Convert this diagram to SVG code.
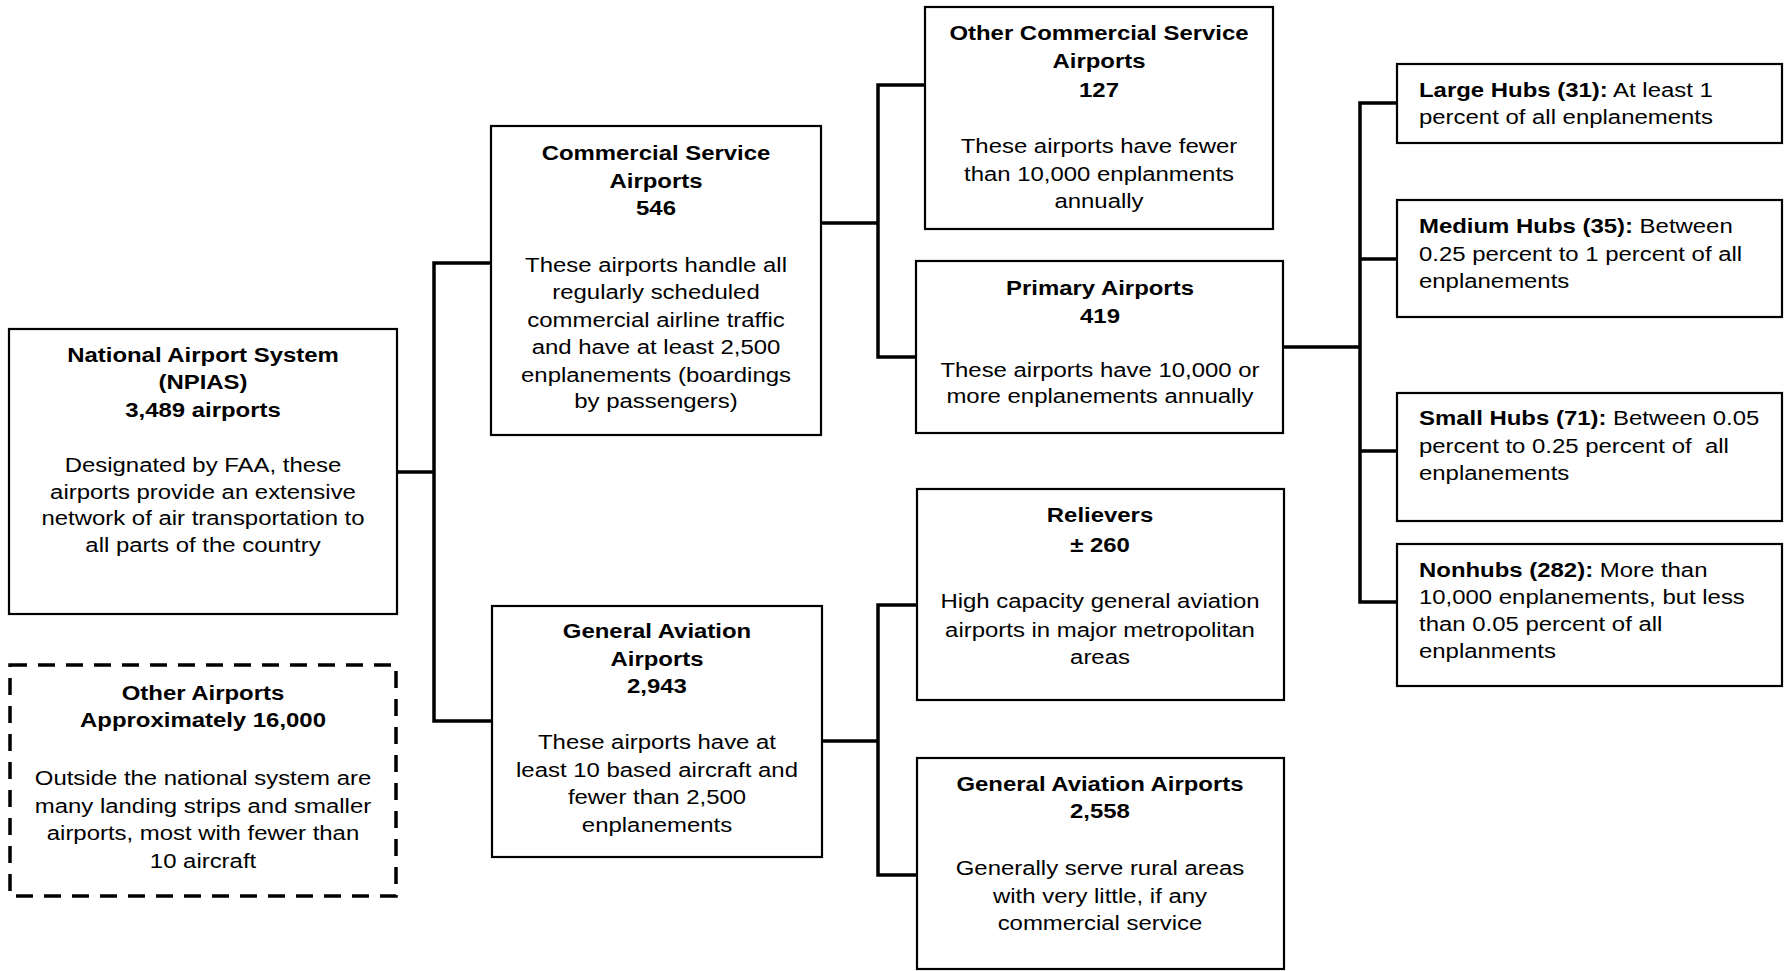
<svg xmlns="http://www.w3.org/2000/svg" width="1785" height="971" viewBox="0 0 1785 971">
<style>
.box{fill:#fff;stroke:#000;stroke-width:2.2}
.dash{fill:#fff;stroke:#000;stroke-width:3.5;stroke-dasharray:17 11}
.conn{fill:none;stroke:#000;stroke-width:3.5;stroke-linejoin:miter;stroke-linecap:square}
text{font-family:"Liberation Sans",Arial,Helvetica,sans-serif;font-size:21px;fill:#000}
.c{text-anchor:middle}
.b{font-weight:bold}
</style>
<rect width="1785" height="971" fill="#fff"/>
<g id="connectors">
<path class="conn" d="M397 472H434M434 263V721M434 263H491M434 721H492"/>
<path class="conn" d="M821 223H878M878 85V357M878 85H925M878 357H916"/>
<path class="conn" d="M1283 347H1360M1360 103V602M1360 103H1397M1360 259H1397M1360 451H1397M1360 602H1397"/>
<path class="conn" d="M822 741H878M878 605V875M878 605H917M878 875H917"/>
</g>
<g id="npias">
<rect class="box" x="9" y="329" width="388" height="285"/>
<g transform="translate(203 0) scale(1.14 1)">
<text class="c b" x="0" y="362">National Airport System</text>
<text class="c b" x="0" y="389">(NPIAS)</text>
<text class="c b" x="0" y="417">3,489 airports</text>
<text class="c" x="0" y="472">Designated by FAA, these</text>
<text class="c" x="0" y="499">airports provide an extensive</text>
<text class="c" x="0" y="525">network of air transportation to</text>
<text class="c" x="0" y="552">all parts of the country</text>
</g>
</g>
<g id="other-airports">
<rect class="dash" x="10" y="665" width="386" height="231"/>
<g transform="translate(203 0) scale(1.14 1)">
<text class="c b" x="0" y="700">Other Airports</text>
<text class="c b" x="0" y="727">Approximately 16,000</text>
<text class="c" x="0" y="785">Outside the national system are</text>
<text class="c" x="0" y="813">many landing strips and smaller</text>
<text class="c" x="0" y="840">airports, most with fewer than</text>
<text class="c" x="0" y="868">10 aircraft</text>
</g>
</g>
<g id="commercial">
<rect class="box" x="491" y="126" width="330" height="309"/>
<g transform="translate(656 0) scale(1.14 1)">
<text class="c b" x="0" y="160">Commercial Service</text>
<text class="c b" x="0" y="188">Airports</text>
<text class="c b" x="0" y="215">546</text>
<text class="c" x="0" y="272">These airports handle all</text>
<text class="c" x="0" y="299">regularly scheduled</text>
<text class="c" x="0" y="327">commercial airline traffic</text>
<text class="c" x="0" y="354">and have at least 2,500</text>
<text class="c" x="0" y="382">enplanements (boardings</text>
<text class="c" x="0" y="408">by passengers)</text>
</g>
</g>
<g id="general-aviation">
<rect class="box" x="492" y="606" width="330" height="251"/>
<g transform="translate(657 0) scale(1.14 1)">
<text class="c b" x="0" y="638">General Aviation</text>
<text class="c b" x="0" y="666">Airports</text>
<text class="c b" x="0" y="693">2,943</text>
<text class="c" x="0" y="749">These airports have at</text>
<text class="c" x="0" y="777">least 10 based aircraft and</text>
<text class="c" x="0" y="804">fewer than 2,500</text>
<text class="c" x="0" y="832">enplanements</text>
</g>
</g>
<g id="other-commercial">
<rect class="box" x="925" y="7" width="348" height="222"/>
<g transform="translate(1099 0) scale(1.14 1)">
<text class="c b" x="0" y="40">Other Commercial Service</text>
<text class="c b" x="0" y="68">Airports</text>
<text class="c b" x="0" y="97">127</text>
<text class="c" x="0" y="153">These airports have fewer</text>
<text class="c" x="0" y="181">than 10,000 enplanments</text>
<text class="c" x="0" y="208">annually</text>
</g>
</g>
<g id="primary">
<rect class="box" x="916" y="261" width="367" height="172"/>
<g transform="translate(1100 0) scale(1.14 1)">
<text class="c b" x="0" y="295">Primary Airports</text>
<text class="c b" x="0" y="323">419</text>
<text class="c" x="0" y="377">These airports have 10,000 or</text>
<text class="c" x="0" y="403">more enplanements annually</text>
</g>
</g>
<g id="relievers">
<rect class="box" x="917" y="489" width="367" height="211"/>
<g transform="translate(1100 0) scale(1.14 1)">
<text class="c b" x="0" y="522">Relievers</text>
<text class="c b" x="0" y="552">± 260</text>
<text class="c" x="0" y="608">High capacity general aviation</text>
<text class="c" x="0" y="637">airports in major metropolitan</text>
<text class="c" x="0" y="664">areas</text>
</g>
</g>
<g id="general-aviation-2">
<rect class="box" x="917" y="758" width="367" height="211"/>
<g transform="translate(1100 0) scale(1.14 1)">
<text class="c b" x="0" y="791">General Aviation Airports</text>
<text class="c b" x="0" y="818">2,558</text>
<text class="c" x="0" y="875">Generally serve rural areas</text>
<text class="c" x="0" y="903">with very little, if any</text>
<text class="c" x="0" y="930">commercial service</text>
</g>
</g>
<g id="large-hubs">
<rect class="box" x="1397" y="64" width="385" height="79"/>
<g transform="translate(1419 0) scale(1.14 1)">
<text x="0" y="97"><tspan class="b">Large Hubs (31):</tspan> At least 1</text>
<text x="0" y="124">percent of all enplanements</text>
</g>
</g>
<g id="medium-hubs">
<rect class="box" x="1397" y="200" width="385" height="117"/>
<g transform="translate(1419 0) scale(1.14 1)">
<text x="0" y="233"><tspan class="b">Medium Hubs (35):</tspan> Between</text>
<text x="0" y="261">0.25 percent to 1 percent of all</text>
<text x="0" y="288">enplanements</text>
</g>
</g>
<g id="small-hubs">
<rect class="box" x="1397" y="393" width="385" height="128"/>
<g transform="translate(1419 0) scale(1.14 1)">
<text x="0" y="425"><tspan class="b">Small Hubs (71):</tspan> Between 0.05</text>
<text x="0" y="453" xml:space="preserve">percent to 0.25 percent of  all</text>
<text x="0" y="480">enplanements</text>
</g>
</g>
<g id="nonhubs">
<rect class="box" x="1397" y="544" width="385" height="142"/>
<g transform="translate(1419 0) scale(1.14 1)">
<text x="0" y="577"><tspan class="b">Nonhubs (282):</tspan> More than</text>
<text x="0" y="604">10,000 enplanements, but less</text>
<text x="0" y="631">than 0.05 percent of all</text>
<text x="0" y="658">enplanments</text>
</g>
</g>
</svg>
